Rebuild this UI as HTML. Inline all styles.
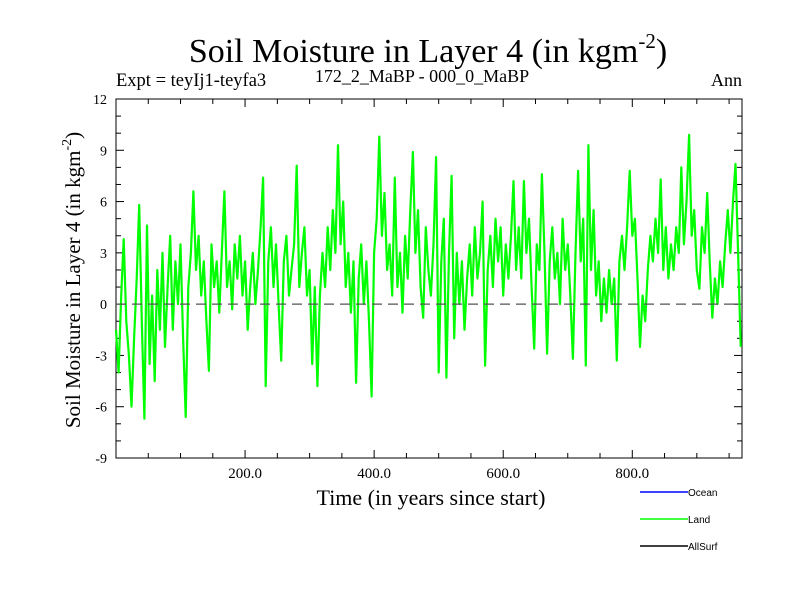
<!DOCTYPE html>
<html><head><meta charset="utf-8"><style>
body{margin:0;background:#fff}
svg{display:block}
</style></head><body>
<svg id="chart" width="800" height="600" viewBox="0 0 800 600" xmlns="http://www.w3.org/2000/svg" font-family="Liberation Serif, serif">
<text x="428" y="62" font-size="34" text-anchor="middle">Soil Moisture in Layer 4 (in kgm<tspan font-size="21" dy="-14">-2</tspan><tspan dy="14">)</tspan></text>
<text x="116" y="86" font-size="18.5">Expt = teyIj1-teyfa3</text>
<text x="422" y="82" font-size="18" text-anchor="middle">172_2_MaBP - 000_0_MaBP</text>
<text x="742" y="86" font-size="18" text-anchor="end">Ann</text>
<text transform="translate(80,280) rotate(-90)" font-size="21" text-anchor="middle">Soil Moisture in Layer 4 (in kgm<tspan font-size="14" dy="-9">-2</tspan><tspan dy="9">)</tspan></text>
<text x="431" y="505" font-size="22" text-anchor="middle">Time (in years since start)</text>
<g id="axes"></g>
<g id="series"></g>
<g font-family="Liberation Sans, sans-serif" font-size="10">
<line x1="640" y1="492" x2="688" y2="492" stroke="#0000ff" stroke-width="1.5"/>
<text x="688" y="496">Ocean</text>
<line x1="640" y1="519" x2="688" y2="519" stroke="#00ff00" stroke-width="1.5"/>
<text x="688" y="523">Land</text>
<line x1="640" y1="546" x2="688" y2="546" stroke="#000" stroke-width="1.5"/>
<text x="688" y="550">AllSurf</text>
</g>
</svg>
<script>
const yTicks=[12,9,6,3,0,-3,-6,-9];
const xTickLabels=[200,400,600,800];
const yearStep=4;
const landValues=[-1.5,-4.0,0.5,3.8,-1.0,-3.0,-6.0,-2.0,1.5,5.8,-1.0,-6.7,4.6,-3.5,0.5,-4.5,2.0,-1.5,3.0,-2.5,1.0,4.0,-1.5,2.5,0.0,3.5,-2.0,-6.6,1.0,3.0,6.6,2.0,4.0,0.5,2.5,-1.0,-3.9,3.5,1.0,2.5,-0.5,3.0,6.6,1.0,2.5,-0.3,3.5,1.5,4.0,0.5,2.5,-1.5,1.0,3.0,0.0,2.0,4.5,7.4,-4.8,2.5,4.5,1.0,3.5,0.0,-3.3,2.5,4.0,0.5,2.0,3.5,8.1,1.0,3.0,4.5,0.5,2.0,-3.5,1.0,-4.8,0.5,3.0,1.0,4.5,2.0,5.5,3.0,9.3,3.5,6.0,1.0,3.0,-0.5,2.5,-4.6,1.5,3.5,0.0,2.5,-1.0,-5.4,3.0,5.0,9.8,4.0,6.5,2.0,3.5,0.5,7.4,1.0,3.0,-0.5,4.0,1.5,5.5,8.9,3.0,5.5,1.0,-0.8,4.5,2.0,0.5,3.5,8.6,-4.0,2.5,5.0,-4.3,3.0,7.5,-2.0,3.0,0.0,2.5,-1.5,1.5,3.5,0.5,4.5,1.5,3.0,6.0,-3.6,2.0,4.0,1.0,5.0,2.5,4.5,0.5,3.5,1.5,4.0,7.2,2.0,4.5,1.5,7.2,3.0,5.0,1.0,-2.6,3.5,2.0,7.6,3.0,-2.9,2.5,4.5,1.5,3.0,0.0,5.0,2.0,3.5,0.5,-3.2,3.0,7.8,2.5,5.0,-3.6,9.3,2.0,5.5,0.5,2.5,-1.0,1.5,-0.5,2.0,0.0,1.5,-3.3,2.5,4.0,2.0,4.5,7.8,4.0,5.0,1.5,-2.5,0.5,-1.0,2.0,4.0,2.5,5.0,3.0,7.3,2.0,4.5,1.5,3.5,2.0,4.5,3.0,8.0,3.5,6.0,9.9,4.0,5.5,2.0,0.9,4.5,3.0,6.5,2.5,-0.8,1.5,0.0,2.5,1.0,3.5,5.5,3.0,6.0,8.2,3.0,-2.5];
const NS='http://www.w3.org/2000/svg';
const L=116,R=742,T=99,B=458,XMIN=0,XMAX=970,YMIN=-9,YMAX=12;
const xs=v=>L+(v-XMIN)/(XMAX-XMIN)*(R-L);
const ys=v=>B-(v-YMIN)/(YMAX-YMIN)*(B-T);
function mk(tag,attrs,parent){const e=document.createElementNS(NS,tag);for(const k in attrs)e.setAttribute(k,attrs[k]);parent.appendChild(e);return e;}
const axes=document.getElementById('axes');
const frame=mk('rect',{x:L,y:T,width:R-L,height:B-T,fill:'none',stroke:'#000','stroke-width':1},axes);


for(let v=YMIN;v<=YMAX;v++){
  const len=(v%3===0)?8:5;
  const t1=mk('line',{x1:L,x2:L+len,y1:ys(v),y2:ys(v),stroke:'#000'},axes);
  
  
  const t2=mk('line',{x1:R,x2:R-len,y1:ys(v),y2:ys(v),stroke:'#000'},axes);
  
  
}
yTicks.forEach(v=>{
  const t=mk('text',{x:L-9,y:ys(v)+5,'font-size':14,'text-anchor':'end'},axes);
  t.textContent=v;
  
  
});
for(let v=50;v<XMAX;v+=50){
  const len=(v%200===0)?8:5;
  const t1=mk('line',{x1:xs(v),x2:xs(v),y1:B,y2:B-len,stroke:'#000'},axes);
  
  
  const t2=mk('line',{x1:xs(v),x2:xs(v),y1:T,y2:T+len,stroke:'#000'},axes);
  
  
}
xTickLabels.forEach(v=>{
  const t=mk('text',{x:xs(v),y:B+20,'font-size':15,'text-anchor':'middle'},axes);
  t.textContent=v.toFixed(1);
  
  
});
const series=document.getElementById('series');
const pts=landValues.map((v,i)=>xs(i*yearStep).toFixed(1)+','+ys(v).toFixed(1)).join(' ');
const pl=mk('polyline',{points:pts,fill:'none',stroke:'#00ff00','stroke-width':2.2,'stroke-linejoin':'round'},series);


const zl=mk('line',{x1:L,x2:R,y1:ys(0),y2:ys(0),stroke:'#555','stroke-width':1.3,'stroke-dasharray':'10,6'},series);


</script>
</body></html>
